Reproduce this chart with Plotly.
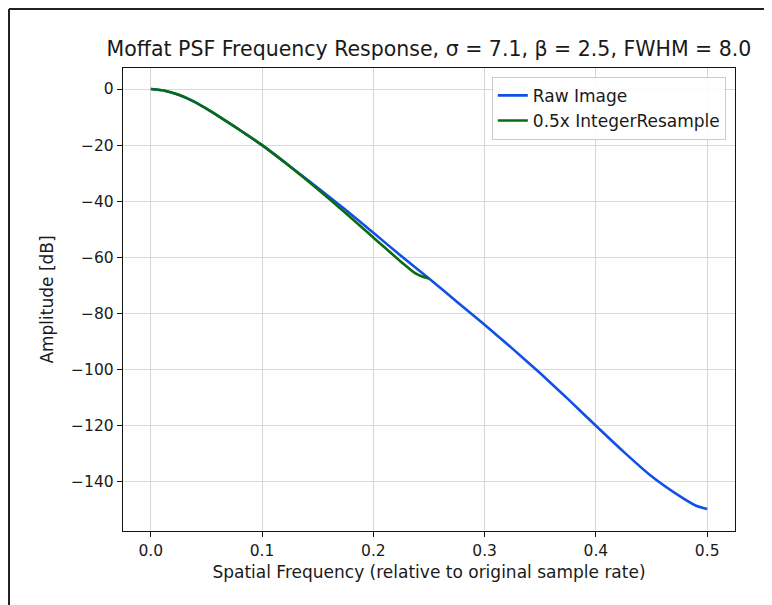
import plotly.graph_objects as go

# ---- data ----
raw_freq = [0.0, 0.0125, 0.025, 0.0375, 0.05, 0.0625, 0.075, 0.0875, 0.1,
            0.125, 0.15, 0.175, 0.2, 0.225, 0.25, 0.275, 0.3, 0.325, 0.35,
            0.375, 0.4, 0.425, 0.45, 0.475, 0.49, 0.5]
raw_db = [0.0, -0.6, -2.0, -4.2, -7.0, -10.1, -13.3, -16.6, -20.0,
          -27.5, -35.2, -43.0, -51.2, -59.5, -67.5, -75.8, -84.0, -92.5, -101.3,
          -110.5, -120.0, -129.3, -138.0, -145.0, -148.5, -149.7]

res_freq = [0.0, 0.0125, 0.025, 0.0375, 0.05, 0.0625, 0.075, 0.0875, 0.1,
            0.125, 0.15, 0.175, 0.2, 0.225, 0.2375, 0.245, 0.25]
res_db = [0.0, -0.6, -2.0, -4.2, -7.0, -10.1, -13.3, -16.6, -20.0,
          -27.6, -35.7, -44.2, -52.9, -61.6, -65.6, -67.0, -67.5]

x_ticks = [0.0, 0.1, 0.2, 0.3, 0.4, 0.5]
x_ticktext = ["0.0", "0.1", "0.2", "0.3", "0.4", "0.5"]
y_ticks = [0, -20, -40, -60, -80, -100, -120, -140]
y_ticktext = ["0", "\u221220", "\u221240", "\u221260", "\u221280", "\u2212100", "\u2212120", "\u2212140"]

# page has an 8px body margin, so the figure is drawn 8px in from the top-left
OFF = 8
W, H = 772 - OFF, 605 - OFF
L, T = 123 - OFF, 68 - OFF
R = W - (735 - OFF)
B = H - (531 - OFF)
pw, ph = W - L - R, H - T - B

def px(xf):
    return (xf - L) / pw

def py(yf):
    return (H - B - yf) / ph

FONT = "DejaVu Sans"
TXT = "#1a1a1a"

fig = go.Figure()
fig.add_trace(go.Scatter(x=raw_freq, y=raw_db, mode="lines", name="Raw Image",
                         line=dict(color="#1150e6", width=2.6, shape="spline", smoothing=0.6)))
fig.add_trace(go.Scatter(x=res_freq, y=res_db, mode="lines", name="0.5x IntegerResample",
                         line=dict(color="#0b6b12", width=2.6, shape="spline", smoothing=0.6)))

fig.update_layout(
    width=W, height=H,
    margin=dict(l=L, r=R, t=T, b=B, autoexpand=False),
    paper_bgcolor="white", plot_bgcolor="white",
    font=dict(family=FONT, size=15.5, color=TXT),
    title=dict(text="Moffat PSF Frequency Response, \u03c3 = 7.1, \u03b2 = 2.5, FWHM = 8.0",
               x=0.5, xref="paper", xanchor="center",
               y=1 - (48.5 - OFF) / H, yref="container", yanchor="middle",
               font=dict(family=FONT, size=20.5, color=TXT)),
    xaxis=dict(range=[-0.025, 0.525], tickvals=x_ticks, ticktext=x_ticktext,
               showgrid=True, gridcolor="#d6d6d6", gridwidth=1,
               showline=True, mirror=True, linecolor="#111", linewidth=1.4,
               ticks="outside", ticklen=5, tickcolor="#111", tickwidth=1,
               zeroline=False, tickfont=dict(size=15.5),
               title=dict(text="Spatial Frequency (relative to original sample rate)",
                          standoff=7, font=dict(size=17))),
    yaxis=dict(range=[-157.5, 7.5], tickvals=y_ticks, ticktext=y_ticktext,
               showgrid=True, gridcolor="#c6dcef", gridwidth=1,
               showline=True, mirror=True, linecolor="#111", linewidth=1.4,
               ticks="outside", ticklen=5, tickcolor="#111", tickwidth=1,
               zeroline=False, tickfont=dict(size=15.5),
               title=dict(text="Amplitude [dB]", standoff=13, font=dict(size=17))),
    legend=dict(x=0.985, y=0.981, xanchor="right", yanchor="top",
                bgcolor="rgba(255,255,255,0.85)", bordercolor="#cccccc", borderwidth=1,
                font=dict(size=17, color=TXT)),
    showlegend=True,
)

# figure frame lines (left and top)
fig.add_shape(type="line", xref="paper", yref="paper",
              x0=px(1), x1=px(1), y0=py(H + 5), y1=py(1),
              line=dict(color="#222", width=2))
fig.add_shape(type="line", xref="paper", yref="paper",
              x0=px(1), x1=px(W + 5), y0=py(1), y1=py(1),
              line=dict(color="#222", width=2))

fig.write_html("out.html")
